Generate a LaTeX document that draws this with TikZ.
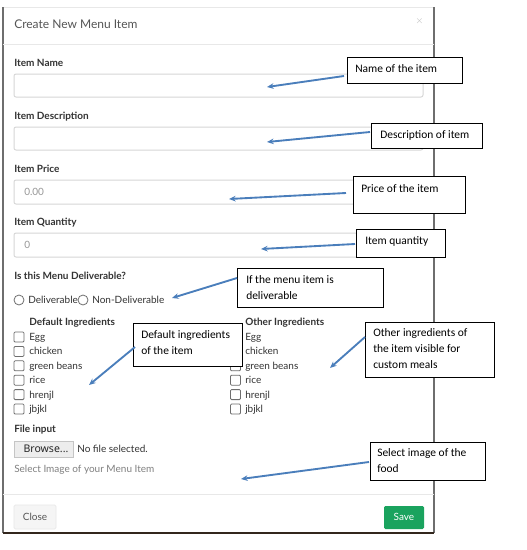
\documentclass[tikz,border=0pt]{standalone}
\usepackage{fontspec}
\setmainfont{Lato}
\newfontfamily\calib{Carlito}
\newfontfamily\segoe{Noto Sans}
\usetikzlibrary{arrows.meta,fit}
\definecolor{arrowblue}{RGB}{74,126,187}
\definecolor{framegray}{RGB}{110,110,110}
\definecolor{lightline}{RGB}{232,232,232}
\definecolor{inputborder}{RGB}{215,215,215}
\definecolor{labeltext}{RGB}{51,51,51}
\definecolor{headtext}{RGB}{85,85,85}
\definecolor{placeholder}{RGB}{150,150,150}
\definecolor{darkbrown}{RGB}{50,38,28}
\definecolor{savegreen}{RGB}{26,163,94}
\definecolor{boxgray}{RGB}{110,110,110}
\tikzset{
  lbl/.style={font=\fontsize{7.5pt}{9pt}\selectfont\bfseries, text=labeltext, anchor=base west, inner sep=0pt},
  opt/.style={font=\fontsize{7.5pt}{9pt}\selectfont, text=labeltext, anchor=base west, inner sep=0pt},
  hint/.style={font=\fontsize{7.5pt}{9pt}\selectfont, text=placeholder, anchor=base west, inner sep=0pt},
  inputbox/.style={draw=inputborder, line width=0.75pt, rounded corners=1.5pt},
  chk/.style={draw=boxgray, line width=0.6pt, rounded corners=0.8pt, minimum size=7.5pt, inner sep=0pt},
  radio/.style={draw=boxgray, line width=0.6pt, circle, minimum size=7.5pt, inner sep=0pt},
  callout/.style={draw=black, line width=0.75pt, fill=white, inner sep=0pt},
  ctext/.style={font=\calib\fontsize{8.6pt}{12pt}\selectfont, text=black, anchor=base west, inner sep=0pt},
  mtext/.style={font=\calib\fontsize{8.6pt}{12pt}\selectfont, text=black, anchor=north west, inner sep=0pt, align=left},
  pointer/.style={draw=arrowblue, line width=1.4pt, -{Stealth[length=5pt,width=4.2pt]}},
}
\begin{document}
\begin{tikzpicture}[x=0.75pt,y=-0.75pt]
\useasboundingbox (0,0) rectangle (526,550);
\fill[white] (0,0) rectangle (526,550);
% modal frame
\draw[lightline, line width=0.75pt] (3,7) -- (434,7);
\draw[framegray, line width=1.3pt] (3,7) -- (3,533);
\draw[framegray, line width=1.3pt] (434,7) -- (434,533);
\draw[darkbrown, line width=1.6pt] (3,533) -- (434,533);
% header
\node[anchor=base west, inner sep=0pt, text=headtext, font=\fontsize{9pt}{11pt}\selectfont] (title) at (14,28.5) {Create New Menu Item};
\node[anchor=center, inner sep=0pt, text=black!25, font=\fontsize{7pt}{8pt}\selectfont] (closex) at (419.5,21) {$\times$};
\draw[lightline, line width=0.6pt] (3,44) -- (434,44);
% item name
\node[lbl] (lname) at (14,66.5) {Item Name};
\node[inputbox, fit={(14,74) (423,97)}, inner sep=0pt] (iname) {};
% description
\node[lbl] (ldesc) at (14,119.5) {Item Description};
\node[inputbox, fit={(14,127) (423,150)}, inner sep=0pt] (idesc) {};
% price
\node[lbl] (lprice) at (14,172.5) {Item Price};
\node[inputbox, fit={(14,180) (423,204)}, inner sep=0pt] (iprice) {};
\node[hint] (pprice) at (24,195.5) {0.00};
% quantity
\node[lbl] (lqty) at (14,225.5) {Item Quantity};
\node[inputbox, fit={(14,233) (423,257)}, inner sep=0pt] (iqty) {};
\node[hint] (pqty) at (24,248.5) {0};
% deliverable
\node[lbl] (ldeliv) at (14,279.5) {Is this Menu Deliverable?};
\node[radio] (r1) at (19,300) {};
\node[opt] (tr1) at (28,303.5) {Deliverable};
\node[radio] (r2) at (83,300) {};
\node[opt] (tr2) at (92,303.5) {Non-Deliverable};
% default ingredients
\node[lbl] (ldef) at (29,325.5) {Default Ingredients};
\foreach \t [count=\i] in {Egg,chicken,green beans,rice,hrenjl,jbjkl}{
  \pgfmathsetmacro\yy{337+(\i-1)*14.4}
  \node[chk] (dc\i) at (19,\yy) {};
  \node[opt] (dt\i) at (29,\yy+3.5) {\t};
}
% other ingredients
\node[lbl] (loth) at (245,325.5) {Other Ingredients};
\foreach \t [count=\i] in {Egg,chicken,green beans,rice,hrenjl,jbjkl}{
  \pgfmathsetmacro\yy{337+(\i-1)*14.4}
  \node[chk] (oc\i) at (235.5,\yy) {};
  \node[opt] (ot\i) at (245,\yy+3.5) {\t};
}
% file input
\node[lbl] (lfile) at (14,432.5) {File input};
\node[draw=inputborder!80!gray, fill=black!7, line width=0.6pt, fit={(14,441) (73,457)}, inner sep=0pt] (browse) {};
\node[inner sep=0pt, text=black!85, font=\segoe\fontsize{7.9pt}{10pt}\selectfont] (tbrowse) at (46,449) {Browse...};
\node[opt] (nofile) at (77,452.5) {No file selected.};
\node[hint, text=black!50] (selimg) at (14,472.5) {Select Image of your Menu Item};
% footer
\draw[lightline, line width=0.6pt] (3,494) -- (434,494);
\node[draw=lightline, fill=black!4, line width=0.6pt, rounded corners=1pt, fit={(14,505) (56,529)}, inner sep=0pt] (closebtn) {};
\node[inner sep=0pt, text=headtext, font=\fontsize{7.5pt}{9pt}\selectfont] (tclose) at (35,517) {Close};
\node[fill=savegreen, rounded corners=1pt, fit={(384,506) (424,529)}, inner sep=0pt] (savebtn) {};
\node[inner sep=0pt, text=white, font=\fontsize{7.5pt}{9pt}\selectfont] (tsave) at (404,517) {Save};

% callouts
\node[callout, fit={(347,57) (462,83)}] (c1) {};
\node[ctext] (t1) at (355,72) {Name of the item};
\node[callout, fit={(371,123) (482,148)}] (c2) {};
\node[ctext] (t2) at (380,138) {Description of item};
\node[callout, fit={(353,176) (465,213)}] (c3) {};
\node[ctext] (t3) at (361,192) {Price of the item};
\node[callout, fit={(356,229) (445,257)}] (c4) {};
\node[ctext] (t4) at (365,244) {Item quantity};
\node[callout, fit={(237,268) (383,307)}] (c5) {};
\node[mtext] (t5) at (246,275) {If the menu item is\\deliverable};
\node[callout, fit={(133,323) (242,366)}] (c6) {};
\node[mtext] (t6) at (141,330) {Default ingredients\\of the item};
\node[callout, fit={(365,322) (494,377)}] (c7) {};
\node[mtext] (t7) at (373,328) {Other ingredients of\\the item visible for\\custom meals};
\node[callout, fit={(370,442) (485,480)}] (c8) {};
\node[mtext] (t8) at (377,448) {Select image of the\\food};

% arrow ends
\coordinate (s1) at (344,76);   \coordinate (e1) at (267,87);
\coordinate (s2) at (370,132);  \coordinate (e2) at (267,142);
\coordinate (s3) at (346,193);  \coordinate (e3) at (229,199);
\coordinate (s4) at (355,244);  \coordinate (e4) at (261,249);
\coordinate (s5) at (237,278);  \coordinate (e5) at (172,298);
\coordinate (s6) at (135,347);  \coordinate (e6) at (89,385);
\coordinate (s7) at (365,337);  \coordinate (e7) at (330,368);
\coordinate (s8) at (369,462);  \coordinate (e8) at (241,479);
\foreach \k in {1,...,8}{ \draw[pointer] (s\k) -- (e\k); }
\end{tikzpicture}
\end{document}
